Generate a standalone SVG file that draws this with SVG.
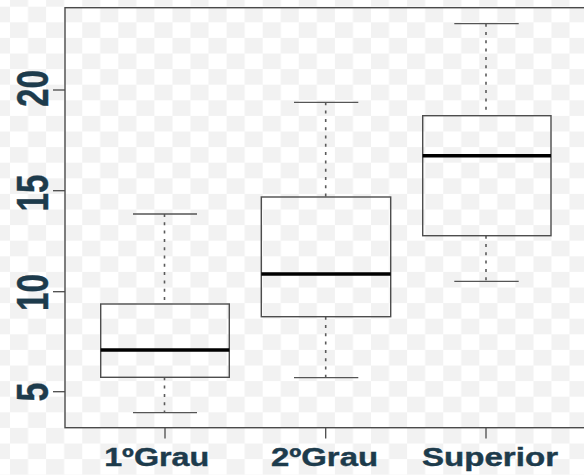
<svg xmlns="http://www.w3.org/2000/svg" width="584" height="475" viewBox="0 0 584 475">
  <defs>
    <pattern id="checker" patternUnits="userSpaceOnUse" x="10" y="6.7" width="36.1" height="31.2">
      <rect x="0" y="0" width="36.1" height="31.2" fill="#ffffff"/>
      <rect x="18.05" y="0" width="18.05" height="15.6" fill="#f2f2f2"/>
      <rect x="0" y="15.6" width="18.05" height="15.6" fill="#f2f2f2"/>
    </pattern>
  </defs>
  <style>
    .frame { fill: none; stroke: #4a4a4a; stroke-width: 1.4; }
    .tick { stroke: #4a4a4a; stroke-width: 1.3; }
    .box { fill: none; stroke: #4d4d4d; stroke-width: 1.4; }
    .median { stroke: #000000; stroke-width: 3.4; }
    .whisker { stroke: #5a5a5a; stroke-width: 1.6; stroke-dasharray: 3 5.3; }
    .cap { stroke: #555555; stroke-width: 1.3; }
    .lbl { font-family: "Liberation Sans", Arial, sans-serif; font-weight: bold; fill: #1d3b4c; stroke: #1d3b4c; stroke-width: 0.4; }
    .xl { font-size: 25px; text-anchor: middle; }
    .yl { font-size: 44px; text-anchor: middle; }
  </style>
  <rect x="0" y="0" width="584" height="475" fill="url(#checker)"/>

  <g id="axes">
    <rect class="frame" x="65" y="7.7" width="540" height="420"/>
    <line class="tick" x1="53" y1="90" x2="65" y2="90"/>
    <line class="tick" x1="53" y1="190.7" x2="65" y2="190.7"/>
    <line class="tick" x1="53" y1="291.7" x2="65" y2="291.7"/>
    <line class="tick" x1="53" y1="391.7" x2="65" y2="391.7"/>
    <line class="tick" x1="165" y1="428" x2="165" y2="438.5"/>
    <line class="tick" x1="325.7" y1="428" x2="325.7" y2="438.5"/>
    <line class="tick" x1="486" y1="428" x2="486" y2="438.5"/>
    <text class="lbl yl" transform="translate(48.3,88.5) rotate(-90)" textLength="37" lengthAdjust="spacingAndGlyphs">20</text>
    <text class="lbl yl" transform="translate(48.3,193) rotate(-90)" textLength="37" lengthAdjust="spacingAndGlyphs">15</text>
    <text class="lbl yl" transform="translate(48.3,292.5) rotate(-90)" textLength="37" lengthAdjust="spacingAndGlyphs">10</text>
    <text class="lbl yl" transform="translate(48.3,392) rotate(-90)" textLength="19" lengthAdjust="spacingAndGlyphs">5</text>
    <text class="lbl xl" x="156.7" y="466" textLength="105" lengthAdjust="spacingAndGlyphs">1ºGrau</text>
    <text class="lbl xl" x="324.5" y="466" textLength="107" lengthAdjust="spacingAndGlyphs">2ºGrau</text>
    <text class="lbl xl" x="490" y="466" textLength="136" lengthAdjust="spacingAndGlyphs">Superior</text>
  </g>

  <g id="box-1grau">
    <line class="whisker" x1="164.5" y1="214" x2="164.5" y2="304"/>
    <line class="whisker" x1="164.5" y1="377.3" x2="164.5" y2="412.7"/>
    <line class="cap" x1="133" y1="214" x2="197" y2="214"/>
    <line class="cap" x1="133" y1="412.7" x2="197" y2="412.7"/>
    <rect class="box" x="100.7" y="304" width="128.6" height="73.3"/>
    <line class="median" x1="100.7" y1="350" x2="229.3" y2="350"/>
  </g>

  <g id="box-2grau">
    <line class="whisker" x1="325.7" y1="102.3" x2="325.7" y2="197"/>
    <line class="whisker" x1="325.7" y1="316.7" x2="325.7" y2="377.7"/>
    <line class="cap" x1="294" y1="102.3" x2="358.3" y2="102.3"/>
    <line class="cap" x1="294" y1="377.7" x2="358.3" y2="377.7"/>
    <rect class="box" x="261.3" y="197" width="129.4" height="119.7"/>
    <line class="median" x1="261.3" y1="274" x2="390.7" y2="274"/>
  </g>

  <g id="box-superior">
    <line class="whisker" x1="486" y1="23.7" x2="486" y2="115.7"/>
    <line class="whisker" x1="486" y1="235.7" x2="486" y2="281.3"/>
    <line class="cap" x1="454.3" y1="23.7" x2="518.7" y2="23.7"/>
    <line class="cap" x1="454.3" y1="281.3" x2="518.7" y2="281.3"/>
    <rect class="box" x="422.7" y="115.7" width="128.3" height="120"/>
    <line class="median" x1="422.7" y1="155.7" x2="551" y2="155.7"/>
  </g>
</svg>
